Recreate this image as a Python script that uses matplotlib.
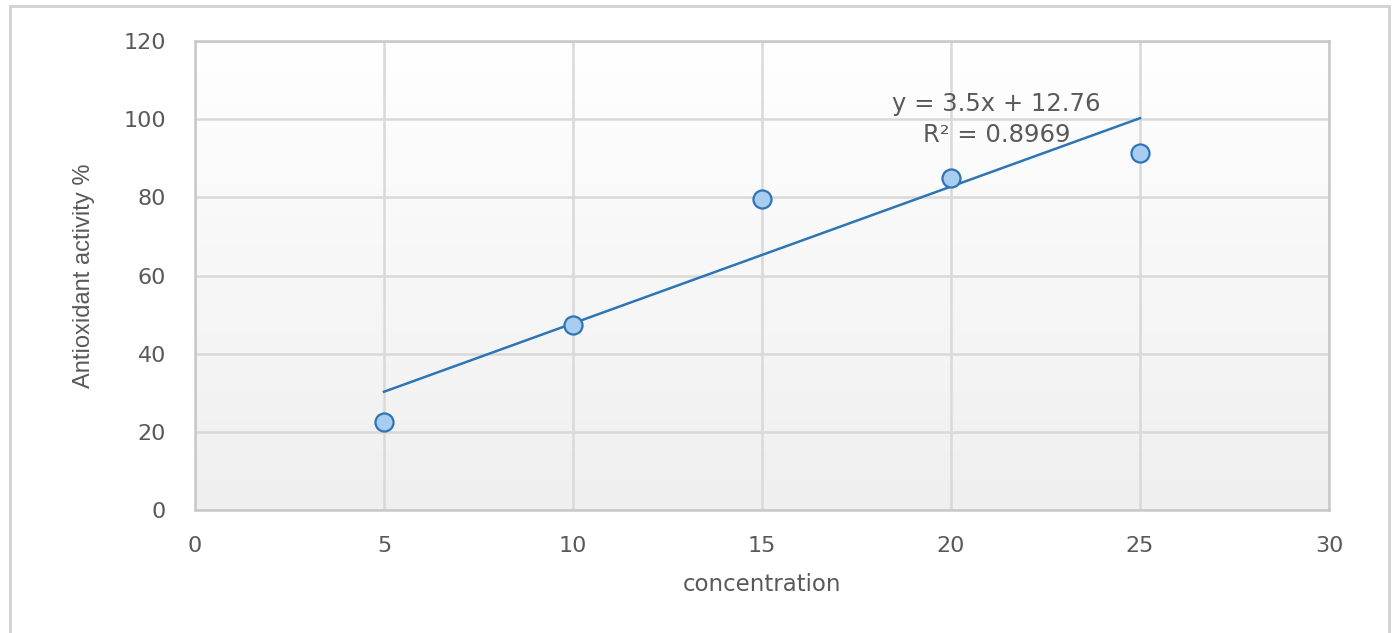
import numpy as np
import matplotlib.pyplot as plt
from matplotlib.patches import Rectangle
from matplotlib.colors import LinearSegmentedColormap

# Data
concentration = [5, 10, 15, 20, 25]
activity = [22.5, 47.3, 79.6, 85.0, 91.3]
slope = 3.5
intercept = 12.76
r_squared = 0.8969
x_ticks = [0, 5, 10, 15, 20, 25, 30]
y_ticks = [0, 20, 40, 60, 80, 100, 120]

plt.rcParams['font.family'] = ['DejaVu Sans']
txt_col = '#595959'
grid_col = '#d9d9d9'

fig = plt.figure(figsize=(13.95, 6.33), dpi=100)
ax = fig.add_axes([0.1398, 0.1943, 0.8129, 0.7409])

# light gradient background like the spreadsheet plot area
grad = np.linspace(0, 1, 256).reshape(-1, 1)
ax.imshow(grad, cmap=LinearSegmentedColormap.from_list('g', ['#ffffff', '#efefef']),
          extent=[0, 30, 0, 120], aspect='auto', origin='upper', zorder=0)

ax.set_xlim(0, 30)
ax.set_ylim(0, 120)
ax.set_xticks(x_ticks)
ax.set_yticks(y_ticks)
ax.grid(True, color=grid_col, linewidth=1.8, zorder=1)
ax.set_axisbelow(True)
for sp in ax.spines.values():
    sp.set_color('#c8c8c8')
    sp.set_linewidth(1.8)
ax.tick_params(length=0, colors=txt_col, labelsize=16)
ax.tick_params(axis='y', pad=21)
ax.tick_params(axis='x', pad=19)

# trendline
xl = np.array([concentration[0], concentration[-1]])
ax.plot(xl, slope * xl + intercept, color='#2e75b6', linewidth=1.8, zorder=3)

ax.plot(concentration, activity, 'o', markersize=13, markerfacecolor='#a9cdf0',
        markeredgecolor='#2e75b6', markeredgewidth=1.6, zorder=4, clip_on=False)

ax.text(21.2, 104.0, 'y = 3.5x + 12.76', ha='center', va='center', fontsize=17.5, color=txt_col, zorder=5)
ax.text(21.2, 96.0, 'R² = %.4f' % r_squared, ha='center', va='center', fontsize=17.5, color=txt_col, zorder=5)

ax.set_xlabel('concentration', fontsize=16.5, color=txt_col, labelpad=12)
ax.set_ylabel('Antioxidant activity %', fontsize=17, color=txt_col, labelpad=20,
              family=['Liberation Sans Narrow', 'Liberation Sans', 'DejaVu Sans'])

# outer chart border
fig.patches.append(Rectangle((10 / 1395, -0.05), 1379 / 1395, 1 - 6 / 633 + 0.05, transform=fig.transFigure,
                             fill=False, edgecolor='#d0d0d0', linewidth=2))

fig.savefig('out.png', dpi=100)
